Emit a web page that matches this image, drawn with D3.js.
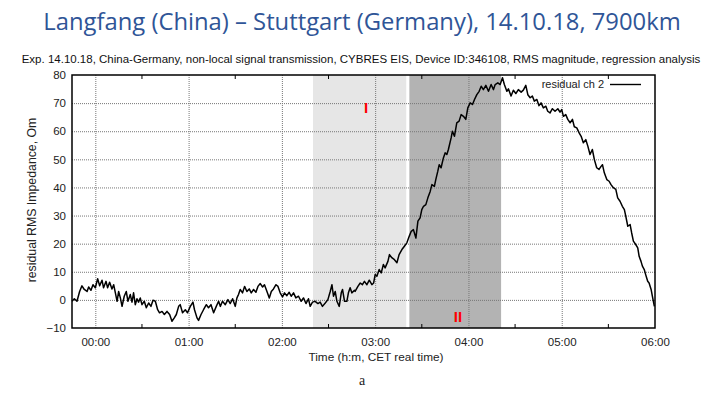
<!DOCTYPE html>
<html>
<head>
<meta charset="utf-8">
<script src="https://cdn.jsdelivr.net/npm/d3@7"></script>
<style>
  body { margin: 0; background: #fff; }
  svg text { font-family: "Liberation Sans", Arial, sans-serif; }
</style>
</head>
<body>
<svg id="chart" width="722" height="399"></svg>
<script>
// minutes after 00:00 CET
const minutes = [
  -15.0, -13.5, -11.8, -10.1, -8.6, -7.1, -5.3, -4.3, -2.8, -1.5, 0, 1.5, 2.8, 4.3, 5.3, 6.9, 7.9, 9.2, 10.7, 11.8,
  12.9, 14.0, 15.0, 16.1, 17.2, 18.6, 19.9, 21.0, 22.5, 23.6, 24.6, 25.7, 26.8, 27.8, 28.9, 30.0, 31.5, 32.8, 34.3, 35.8,
  37.1, 38.6, 40.1, 41.3, 42.9, 44.4, 46.1, 47.8, 49.3, 50.8, 52.1, 53.6, 54.6, 56.1, 57.9, 59.3, 61.1, 62.8, 63.8, 65.4,
  66.4, 68.0, 69.6, 71.4, 72.8, 74.4, 76.1, 77.8, 79.3,
  80.4, 81.8, 83.6, 85.3, 86.8, 88.3, 90.0, 91.1, 92.1, 93.2, 94.7, 96.0, 97.5, 99.0, 100.3, 101.8, 103.3, 104.6, 106.1, 107.6,
  108.8, 110.4, 111.9, 113.2, 114.6, 116.2, 117.5, 118.9, 120.4, 121.7, 123.2, 124.7, 126.0, 127.5, 129.0, 130.7, 132.4, 133.9, 135.5, 137.1,
  138.2, 139.7, 141.4, 143.2, 144.6, 146.1, 147.9, 149.6, 151.1, 152.2, 153.2, 154.3, 155.4, 156.9, 158.2, 159.0, 160.3, 161.8, 162.8, 163.9,
  165.0, 166.7, 167.1,
  168.9, 170.4, 171.8, 173.1, 174.7, 176.2, 177.9, 179.0, 180.0, 181.1, 182.6, 183.9, 185.3, 186.4, 188.2, 189.2, 190.7, 192.4, 194.0, 195.4,
  197.2, 198.8, 200.4, 201.9, 203.2, 204.6, 206.2, 207.5, 208.9, 210.0, 211.1, 212.6, 213.9, 215.4, 216.5, 218.1, 219.0, 220.3, 221.2, 222.4,
  223.9, 225.0, 226.1, 227.1, 228.9, 229.7, 231.0, 232.5, 234.0, 235.3, 236.8, 238.3, 239.6, 241.1, 242.6, 243.9, 245.4, 246.9, 248.2, 249.6,
  251.2, 252.9, 254.6, 256.1,
  257.2, 258.9, 260.4, 261.9, 263.1, 264.7, 265.7, 267.4, 268.9, 270.5, 272.1, 273.9, 275.3, 276.9, 278.2, 279.7, 281.1, 282.4, 284.0, 285.4,
  286.7, 288.2, 289.8, 291.0, 292.5, 294.0, 295.7, 297.5, 298.9, 300.0, 301.1, 302.6, 303.9, 305.4, 306.9, 308.1, 309.7, 311.2, 312.5, 313.9,
  315.5, 316.8, 318.2, 319.7, 321.0, 322.5, 324.0, 325.3, 326.2, 327.4, 329.0, 330.5, 331.7, 333.2, 334.8, 336.0, 337.5, 339.0, 340.3, 341.2,
  342.5, 344.0, 345.0, 346.1, 347.6, 348.9, 349.8, 351.0, 351.9, 353.1, 354.0, 355.3, 356.2, 357.5, 358.3, 359.6
];

// residual ch 2, Om
const residual = [
  -0.5, 0.4, -0.5, 3, 5, 3.7, 3, 4.6, 3.4, 5.4, 4.3, 7.5, 5, 7, 4.3, 6.6, 4.3, 6.3, 3.9, 5.4,
  2.5, -0.5, 3, 0.7, -2.3, 1.3, 3, -0.5, 1.9, -0.8, 2.5, -1.7, 0.4, -0.8, 0.7, -1.7, -0.5, -2.8, -1.1, -2.3,
  -0.1, -0.5, -3.5, -4.6, -4.1, -5.2, -4.1, -5.2, -7.6, -6.4, -5.2, -2.3, -1.7, -4.6, -3.5, -4.6, -2.3, -0.8, -3.5, -6.4,
  -7.3, -5.2, -3.5, -1.7, -2.8, -1.7, -4.6, -2.3, -0.5,
  -2.3, -0.5, -1.7, 0.1, -1.3, 0.4, -2.3, 0.7, 1.9, 3.7, 2.5, 4.8, 3, 3.9, 2.5, 3.7, 2.7, 4.8, 5.8, 4.6,
  5.4, 3, 0.7, 3, 3.9, 5.4, 4.8, 2.5, 1.1, 2.5, 1.5, 2.7, 1.3, 2.5, 0.7, 1.3, -0.5, 0.7, -1.3, 0.4,
  -2.3, -0.8, -0.5, -1.3, -0.8, -2.3, -1.1, 0.1, 3, 5.4, 1.3, 3, -0.5, -2.3, 2.5, 3.7, -0.5, -0.5, 2.5, 4.3,
  2.5, 3.4, 3,
  4.8, 6, 5.4, 6.6, 5.4, 7, 5.4, 6, 9, 8.4, 10.8, 9.6, 12.6, 11.4, 13.7, 16.1, 15, 14.3, 13.2, 16.1,
  17.9, 19.1, 20.3, 22.6, 24.4, 25, 22, 28, 29.2, 32.1, 33.3, 33.9, 36.3, 38.6, 41, 40.4, 42.8, 45.8, 48.1, 47,
  50.5, 52.3, 51.7, 53.5, 57.7, 60, 58.2, 63, 63.6, 65.9, 65.3, 64.2, 68.3, 70.1, 69.5, 71.3, 73, 74.2, 76, 74.8,
  76.3, 74.2, 76.6, 74.8,
  76.6, 77.2, 76.6, 79, 76.6, 74.2, 75.1, 72.5, 74.6, 73.4, 74.8, 73.9, 74.6, 76.3, 73, 71.9, 72.5, 70.7, 71.3, 69.1,
  70.1, 68.3, 68.9, 67.1, 66.5, 68, 67.1, 68, 66.8, 67.7, 65.3, 65.9, 64.2, 63, 64.2, 61.6, 61.2, 59.4, 58.2, 55.9,
  57, 54.7, 51.7, 53.5, 49.9, 47, 46.4, 47.5, 48.1, 45.2, 42.8, 42.2, 41, 39.9, 39.3, 36.3, 35.1, 33.3, 32.1, 29.8,
  26.2, 26.8, 23.8, 20.9, 19.7, 18.5, 15.5, 13.7, 12, 10.8, 9, 6.6, 6, 3.7, 1.3, -2.3
];

const xTicks = [0, 60, 120, 180, 240, 300, 360];
const xTickLabels = ["00:00", "01:00", "02:00", "03:00", "04:00", "05:00", "06:00"];
const xMinorTicks = [30, 90, 150, 210, 270, 330];
const yTicks = [-10, 0, 10, 20, 30, 40, 50, 60, 70, 80];

// shaded phases (minutes)
const phaseStart = [140, 202];
const phaseEnd = [200, 261];
const phaseLabels = ["I", "II"];

const svg = d3.select("#chart");
const plotLeft = 72, plotRight = 655, plotTop = 75, plotBottom = 328;

const x = d3.scaleLinear().domain([-15, 360]).range([plotLeft, plotRight]);
const y = d3.scaleLinear().domain([-10, 80]).range([plotBottom, plotTop]);

// title + subtitle
svg.append("text")
  .attr("x", 362).attr("y", 30)
  .attr("text-anchor", "middle")
  .style("font-family", "'Open Sans', 'Noto Sans', sans-serif")
  .style("font-size", "23.8px")
  .attr("fill", "#2f5597")
  .text("Langfang (China) \u2013 Stuttgart (Germany), 14.10.18, 7900km");

svg.append("text")
  .attr("x", 361).attr("y", 63)
  .attr("text-anchor", "middle")
  .style("font-size", "11.5px")
  .attr("fill", "#111")
  .text("Exp. 14.10.18, China-Germany, non-local signal transmission, CYBRES EIS, Device ID:346108, RMS magnitude, regression analysis");

// phase shading
const phaseFill = ["#e6e6e6", "#b3b3b3"];
svg.append("g").selectAll("rect")
  .data(phaseStart)
  .join("rect")
  .attr("x", (d) => x(d))
  .attr("y", plotTop)
  .attr("width", (d, i) => x(phaseEnd[i]) - x(d))
  .attr("height", plotBottom - plotTop)
  .attr("fill", (d, i) => phaseFill[i]);

// grid
const grid = svg.append("g")
  .attr("stroke", "#777")
  .attr("stroke-width", 1)
  .attr("stroke-dasharray", "1,1");
grid.selectAll("line.v")
  .data(xTicks.slice(0, -1))
  .join("line")
  .attr("class", "v")
  .attr("x1", (d) => x(d) + 0.5).attr("x2", (d) => x(d) + 0.5)
  .attr("y1", plotTop).attr("y2", plotBottom);
grid.selectAll("line.h")
  .data(yTicks.slice(1, -1))
  .join("line")
  .attr("class", "h")
  .attr("x1", plotLeft).attr("x2", plotRight)
  .attr("y1", (d) => y(d) + 0.5).attr("y2", (d) => y(d) + 0.5);

// minor ticks, inward on top and bottom
const minor = svg.append("g").attr("stroke", "#000").attr("stroke-width", 1);
xMinorTicks.forEach((m) => {
  minor.append("line").attr("x1", x(m)).attr("x2", x(m)).attr("y1", plotBottom).attr("y2", plotBottom - 4);
  minor.append("line").attr("x1", x(m)).attr("x2", x(m)).attr("y1", plotTop).attr("y2", plotTop + 4);
});

// axes
const xAxis = d3.axisBottom(x)
  .tickValues(xTicks)
  .tickFormat((d, i) => xTickLabels[i])
  .tickSize(0)
  .tickPadding(10);
svg.append("g")
  .attr("transform", `translate(0,${plotBottom})`)
  .call(xAxis)
  .call((g) => g.select(".domain").remove())
  .call((g) => g.selectAll("text").style("font-size", "11.5px").attr("fill", "#222"));

const yAxis = d3.axisLeft(y)
  .tickValues(yTicks)
  .tickSize(0)
  .tickPadding(6);
svg.append("g")
  .attr("transform", `translate(${plotLeft},0)`)
  .call(yAxis)
  .call((g) => g.select(".domain").remove())
  .call((g) => g.selectAll("text").style("font-size", "11.5px").attr("fill", "#222"));

// residual line
const line = d3.line()
  .x((d, i) => x(minutes[i]))
  .y((d) => y(d));
svg.append("path")
  .datum(residual)
  .attr("fill", "none")
  .attr("stroke", "#000")
  .attr("stroke-width", 1.5)
  .attr("stroke-linejoin", "round")
  .attr("d", line);

// phase labels
svg.append("g").selectAll("text")
  .data(phaseLabels)
  .join("text")
  .attr("x", (d, i) => i === 0 ? 366 : 458)
  .attr("y", (d, i) => i === 0 ? 113 : 322)
  .attr("text-anchor", "middle")
  .style("font-size", "15px")
  .style("font-weight", "bold")
  .attr("fill", "#ff0000")
  .text((d) => d);

// frame
svg.append("rect")
  .attr("x", plotLeft).attr("y", plotTop)
  .attr("width", plotRight - plotLeft).attr("height", plotBottom - plotTop)
  .attr("fill", "none")
  .attr("stroke", "#000")
  .attr("stroke-width", 1.5);

// legend
svg.append("text")
  .attr("x", 604).attr("y", 88)
  .attr("text-anchor", "end")
  .style("font-size", "11px")
  .attr("fill", "#222")
  .text("residual ch 2");
svg.append("line")
  .attr("x1", 610).attr("x2", 641)
  .attr("y1", 84.5).attr("y2", 84.5)
  .attr("stroke", "#000").attr("stroke-width", 1.4);

// axis titles
svg.append("text")
  .attr("transform", "translate(36,200) rotate(-90)")
  .attr("text-anchor", "middle")
  .style("font-size", "12.3px")
  .attr("fill", "#222")
  .text("residual RMS Impedance, Om");

svg.append("text")
  .attr("x", 376).attr("y", 361)
  .attr("text-anchor", "middle")
  .style("font-size", "11.8px")
  .attr("fill", "#222")
  .text("Time (h:m, CET real time)");

svg.append("text")
  .attr("x", 362).attr("y", 385)
  .attr("text-anchor", "middle")
  .style("font-family", "'Liberation Serif', serif")
  .style("font-size", "14px")
  .attr("fill", "#222")
  .text("a");
</script>
</body>
</html>
